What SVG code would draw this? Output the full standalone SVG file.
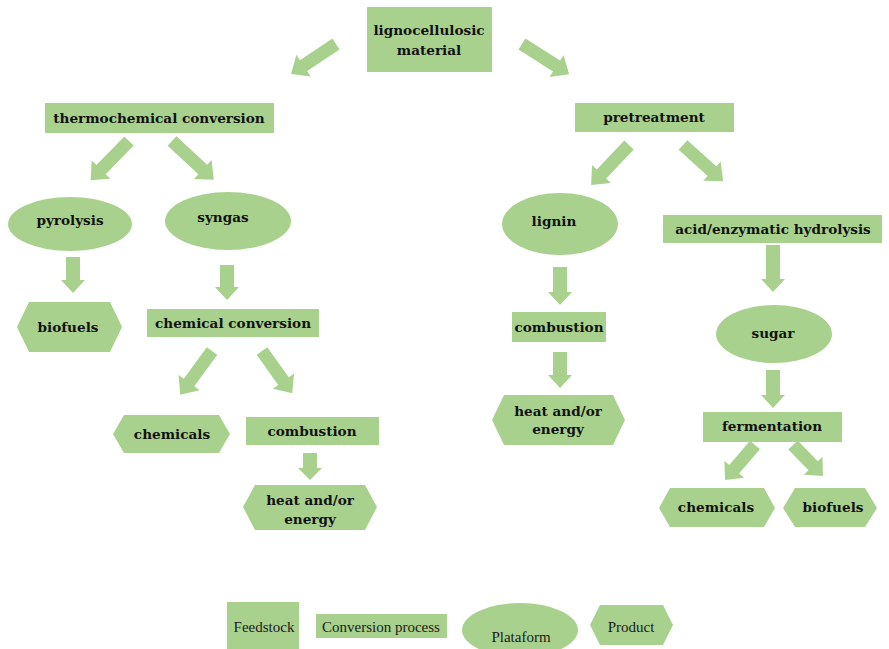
<svg xmlns="http://www.w3.org/2000/svg" width="889" height="649" viewBox="0 0 889 649">
<style>
.n{fill:#a9d18e}
.a{fill:#a9d18e}
.t{font-family:"DejaVu Serif","Liberation Serif",serif;font-weight:bold;font-size:13.6px;fill:#111111;text-anchor:middle}
.l{font-family:"Liberation Serif","DejaVu Serif",serif;font-size:15px;fill:#1a1a1a;text-anchor:middle}
</style>
<rect width="889" height="649" fill="#ffffff"/>
<g id="connectors">
<polygon class="a" transform="translate(336,44) rotate(146.3)" points="0,-6.5 39,-6.5 39,-13 54,0 39,13 39,6.5 0,6.5"/>
<polygon class="a" transform="translate(522,44) rotate(32.6)" points="0,-6.5 41,-6.5 41,-13 56,0 41,13 41,6.5 0,6.5"/>
<polygon class="a" transform="translate(129,141) rotate(134.3)" points="0,-6.5 40,-6.5 40,-13 55,0 40,13 40,6.5 0,6.5"/>
<polygon class="a" transform="translate(172,141) rotate(42.9)" points="0,-6.5 42,-6.5 42,-13 57,0 42,13 42,6.5 0,6.5"/>
<polygon class="a" transform="translate(212,351) rotate(126)" points="0,-6.5 39,-6.5 39,-13 54,0 39,13 39,6.5 0,6.5"/>
<polygon class="a" transform="translate(262,351) rotate(54.5)" points="0,-6.5 37,-6.5 37,-13 52,0 37,13 37,6.5 0,6.5"/>
<polygon class="a" transform="translate(629,145) rotate(133.5)" points="0,-6.5 40,-6.5 40,-13 55,0 40,13 40,6.5 0,6.5"/>
<polygon class="a" transform="translate(683,145) rotate(42)" points="0,-6.5 39,-6.5 39,-13 54,0 39,13 39,6.5 0,6.5"/>
<polygon class="a" transform="translate(755,445) rotate(130.6)" points="0,-6.5 32,-6.5 32,-13 46,0 32,13 32,6.5 0,6.5"/>
<polygon class="a" transform="translate(793,445) rotate(45.9)" points="0,-6.5 29,-6.5 29,-13 43,0 29,13 29,6.5 0,6.5"/>
<polygon class="a" transform="translate(73,257) rotate(90)" points="0,-7 23,-7 23,-12 36,0 23,12 23,7 0,7"/>
<polygon class="a" transform="translate(227,265) rotate(90)" points="0,-7 22,-7 22,-12 35,0 22,12 22,7 0,7"/>
<polygon class="a" transform="translate(310,453) rotate(90)" points="0,-7 15,-7 15,-12 27,0 15,12 15,7 0,7"/>
<polygon class="a" transform="translate(560,267) rotate(90)" points="0,-7 25,-7 25,-12 38,0 25,12 25,7 0,7"/>
<polygon class="a" transform="translate(560,352) rotate(90)" points="0,-7 23,-7 23,-12 36,0 23,12 23,7 0,7"/>
<polygon class="a" transform="translate(773,245) rotate(90)" points="0,-7 34,-7 34,-12 47,0 34,12 34,7 0,7"/>
<polygon class="a" transform="translate(773,370) rotate(90)" points="0,-7 25,-7 25,-12 38,0 25,12 25,7 0,7"/>
</g>
<g id="lignocellulosic">
<rect class="n" x="367" y="7" width="125" height="65"/>
<text class="t" x="429" y="35">lignocellulosic</text>
<text class="t" x="429" y="55">material</text>
</g>
<g id="thermochemical">
<rect class="n" x="45" y="103" width="229" height="30"/>
<text class="t" x="159" y="123">thermochemical conversion</text>
</g>
<g id="pyrolysis">
<ellipse class="n" cx="70" cy="224" rx="62" ry="27"/>
<text class="t" x="70" y="225">pyrolysis</text>
</g>
<g id="syngas">
<ellipse class="n" cx="228" cy="221" rx="63" ry="29"/>
<text class="t" x="223" y="222">syngas</text>
</g>
<g id="biofuels1">
<polygon class="n" points="29,302 110,302 122,327 110,352 29,352 17,327"/>
<text class="t" x="68" y="332">biofuels</text>
</g>
<g id="chemconv">
<rect class="n" x="147" y="309" width="172" height="28"/>
<text class="t" x="233" y="328">chemical conversion</text>
</g>
<g id="chemicals1">
<polygon class="n" points="124,415 219,415 230,434 219,453 124,453 113,434"/>
<text class="t" x="172" y="439">chemicals</text>
</g>
<g id="combustion1">
<rect class="n" x="246" y="417" width="133" height="28"/>
<text class="t" x="312" y="436">combustion</text>
</g>
<g id="heat1">
<polygon class="n" points="255,485 365,485 377,507 365,530 255,530 243,507"/>
<text class="t" x="310" y="505">heat and/or</text>
<text class="t" x="310" y="524">energy</text>
</g>
<g id="pretreatment">
<rect class="n" x="575" y="103" width="159" height="29"/>
<text class="t" x="654" y="122">pretreatment</text>
</g>
<g id="lignin">
<ellipse class="n" cx="560" cy="224" rx="58" ry="31"/>
<text class="t" x="554" y="226">lignin</text>
</g>
<g id="hydrolysis">
<rect class="n" x="663" y="215" width="219" height="28"/>
<text class="t" x="773" y="234">acid/enzymatic hydrolysis</text>
</g>
<g id="combustion2">
<rect class="n" x="512" y="312" width="94" height="30"/>
<text class="t" x="559" y="332">combustion</text>
</g>
<g id="heat2">
<polygon class="n" points="504,395 613,395 625,420 613,445 504,445 492,420"/>
<text class="t" x="558" y="416">heat and/or</text>
<text class="t" x="558" y="434">energy</text>
</g>
<g id="sugar">
<ellipse class="n" cx="774" cy="334" rx="58" ry="29"/>
<text class="t" x="773" y="338">sugar</text>
</g>
<g id="fermentation">
<rect class="n" x="703" y="412" width="139" height="30"/>
<text class="t" x="772" y="431">fermentation</text>
</g>
<g id="chemicals2">
<polygon class="n" points="670,488 764,488 775,508 764,527 670,527 659,508"/>
<text class="t" x="716" y="512">chemicals</text>
</g>
<g id="biofuels2">
<polygon class="n" points="795,488 865,488 877,508 865,527 795,527 783,508"/>
<text class="t" x="833" y="512">biofuels</text>
</g>
<g id="legend">
<rect class="n" x="227" y="602" width="72" height="47"/>
<text class="l" x="264" y="632">Feedstock</text>
<rect class="n" x="316" y="614" width="131" height="24"/>
<text class="l" x="381" y="632">Conversion process</text>
<ellipse class="n" cx="520" cy="630" rx="58" ry="27"/>
<text class="l" x="521" y="642">Plataform</text>
<polygon class="n" points="600,605 663,605 673,625 663,645 600,645 590,625"/>
<text class="l" x="631" y="632">Product</text>
</g>
</svg>
